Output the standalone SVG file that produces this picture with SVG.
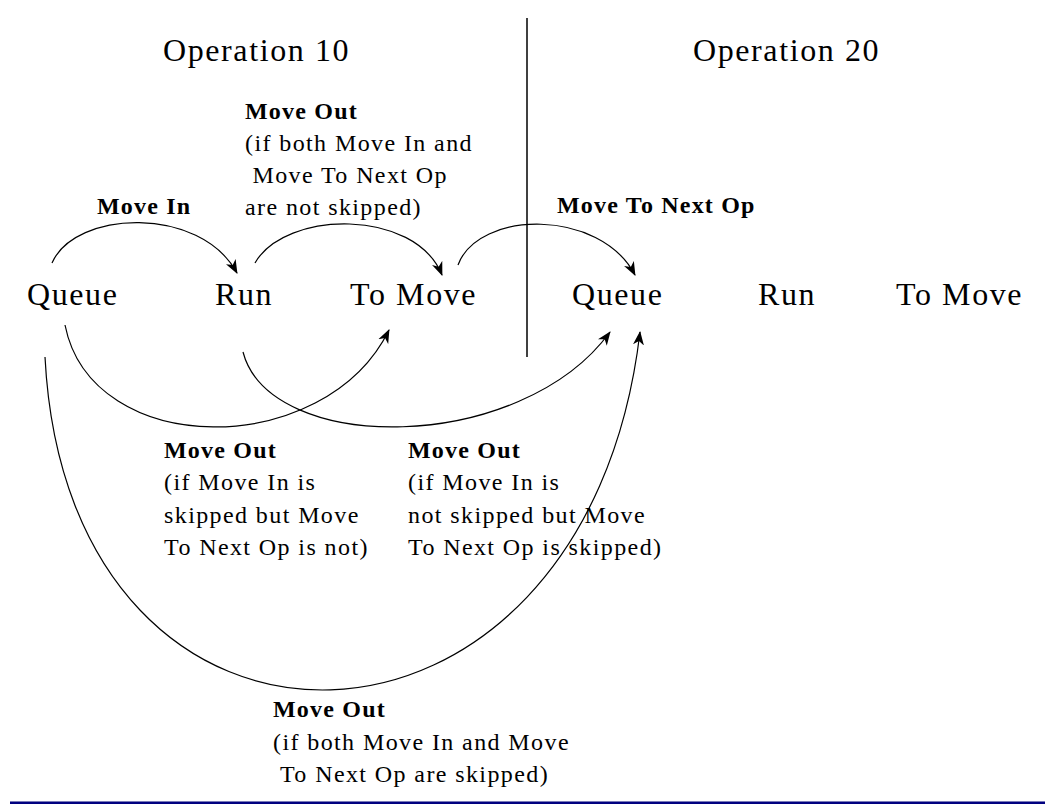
<svg xmlns="http://www.w3.org/2000/svg" width="1045" height="804" viewBox="0 0 1045 804">
<style>
text{font-family:"Liberation Serif","Times New Roman",serif;fill:#000}
.title{font-size:32px;letter-spacing:1.6px}
.node{font-size:32px;letter-spacing:1.6px}
.lb{font-size:24px;font-weight:bold;letter-spacing:1.2px}
.lt{font-size:24px;letter-spacing:1.4px}
.arc{fill:none;stroke:#000;stroke-width:1.2}
</style>
<defs>
<marker id="ah" viewBox="0 0 14 12" refX="13" refY="6" markerWidth="14" markerHeight="12" markerUnits="userSpaceOnUse" orient="auto">
<path d="M0,0.5 L14,6 L0,11.5 L4,6 Z" fill="#000"/>
</marker>
</defs>
<rect width="1045" height="804" fill="#fff"/>
<g id="titles">
<text class="title" x="163" y="61">Operation 10</text>
<text class="title" x="693" y="61">Operation 20</text>
</g>
<line x1="527" y1="18" x2="527" y2="357" stroke="#000" stroke-width="1.5"/>
<g id="op10-queue"><text class="node" x="27" y="305">Queue</text></g>
<g id="op10-run"><text class="node" x="215" y="305">Run</text></g>
<g id="op10-tomove"><text class="node" x="350" y="305">To Move</text></g>
<g id="op20-queue"><text class="node" x="572" y="305">Queue</text></g>
<g id="op20-run"><text class="node" x="758" y="305">Run</text></g>
<g id="op20-tomove"><text class="node" x="896" y="305">To Move</text></g>
<g id="connectors">
<path class="arc" d="M52,263 C75,210 200,205 237,273" marker-end="url(#ah)"/>
<path class="arc" d="M255,263 C285,210 415,208 442,275" marker-end="url(#ah)"/>
<path class="arc" d="M458,265 C478,210 600,208 635,275" marker-end="url(#ah)"/>
<path class="arc" d="M65,325 C92,460 325,460 389,330" marker-end="url(#ah)"/>
<path class="arc" d="M243,352 C270,455 520,455 610,332" marker-end="url(#ah)"/>
<path class="arc" d="M45,357 C68,810 585,800 640,332" marker-end="url(#ah)"/>
</g>
<g id="labels">
<text class="lb" x="97" y="214">Move In</text>
<text class="lb" x="245" y="119">Move Out</text>
<text class="lt" x="245" y="151">(if both Move In and</text>
<text class="lt" x="245" y="183" xml:space="preserve"> Move To Next Op</text>
<text class="lt" x="245" y="215">are not skipped)</text>
<text class="lb" x="557" y="213">Move To Next Op</text>
<text class="lb" x="164" y="458">Move Out</text>
<text class="lt" x="164" y="490">(if Move In is</text>
<text class="lt" x="164" y="523">skipped but Move</text>
<text class="lt" x="164" y="555">To Next Op is not)</text>
<text class="lb" x="408" y="458">Move Out</text>
<text class="lt" x="408" y="490">(if Move In is</text>
<text class="lt" x="408" y="523">not skipped but Move</text>
<text class="lt" x="408" y="555">To Next Op is skipped)</text>
<text class="lb" x="273" y="717">Move Out</text>
<text class="lt" x="273" y="750">(if both Move In and Move</text>
<text class="lt" x="273" y="782" xml:space="preserve"> To Next Op are skipped)</text>
</g>
<line x1="10" y1="801.5" x2="1045" y2="801.5" stroke="#7a7ab8" stroke-width="1"/>
<line x1="10" y1="803" x2="1045" y2="803" stroke="#000080" stroke-width="2"/>
</svg>
